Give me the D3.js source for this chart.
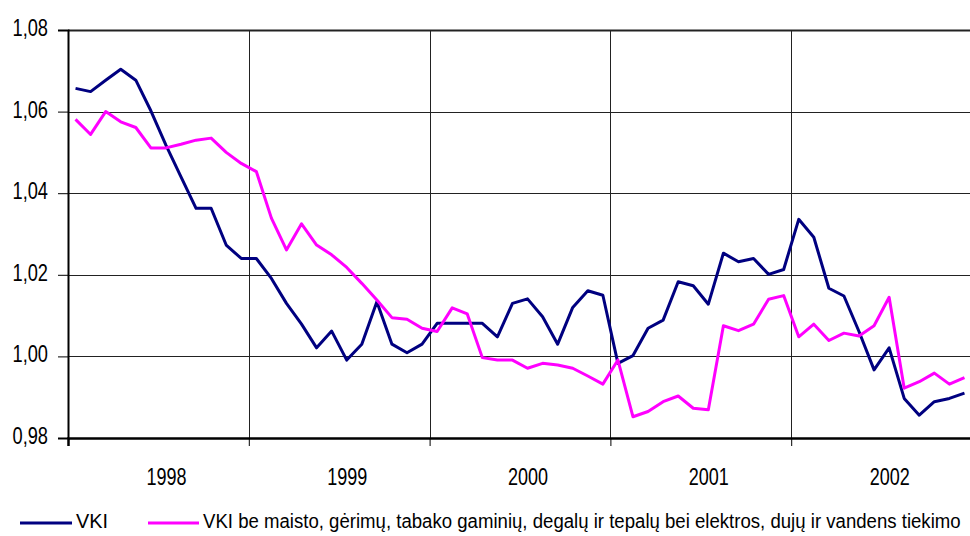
<!DOCTYPE html>
<html><head><meta charset="utf-8">
<script src="https://cdn.jsdelivr.net/npm/d3@7"></script>
<style>
html,body{margin:0;padding:0;background:#fff;}
svg{display:block;font-family:"Liberation Sans",Arial,sans-serif;}
</style></head>
<body>
<svg id="c" width="970" height="536"></svg>
<script>
const years = ["1998","1999","2000","2001","2002"];
const yTicks = [0.98,1.00,1.02,1.04,1.06,1.08];
const vki = [1.0657,1.0649,1.0677,1.0704,1.0677,1.0602,1.0518,1.0440,1.0363,1.0363,1.0273,1.0240,
  1.0240,1.0191,1.0130,1.0079,1.0021,1.0062,0.9991,1.0030,1.0134,1.0030,1.0009,1.0030,
  1.0081,1.0081,1.0081,1.0081,1.0048,1.0130,1.0141,1.0097,1.0030,1.0120,1.0161,1.0150,
  0.9983,1.0002,1.0069,1.0089,1.0183,1.0173,1.0128,1.0253,1.0232,1.0240,1.0201,1.0213,
  1.0336,1.0292,1.0167,1.0148,1.0061,0.9967,1.0021,0.9897,0.9856,0.9889,0.9897,0.9910];
const vkiBe = [1.0581,1.0544,1.0600,1.0575,1.0561,1.0511,1.0511,1.0520,1.0530,1.0535,1.0500,1.0473,
  1.0453,1.0339,1.0261,1.0325,1.0273,1.0249,1.0218,1.0179,1.0138,1.0095,1.0091,1.0069,
  1.0061,1.0119,1.0104,0.9997,0.9991,0.9991,0.9971,0.9983,0.9979,0.9971,0.9952,0.9932,
  0.9991,0.9852,0.9865,0.9889,0.9903,0.9873,0.9869,1.0075,1.0063,1.0079,1.0140,1.0149,
  1.0048,1.0079,1.0039,1.0057,1.0050,1.0075,1.0145,0.9922,0.9938,0.9959,0.9932,0.9948];
const seriesNames = ["VKI","VKI be maisto, gėrimų, tabako gaminių, degalų ir tepalų bei elektros, dujų ir vandens tiekimo"];
const colors = ["#000080","#ff00ff"];

const svg = d3.select("#c");
const L = 68, R = 972, T = 30, B = 438;
const x = d3.scaleLinear().domain([0,60]).range([L,R]);
const y = d3.scaleLinear().domain([0.98,1.08]).range([B,T]);
const fmt = d => d.toFixed(2).replace(".",",");

// gridlines
svg.append("g").selectAll("line.h").data(yTicks.slice(1)).join("line")
  .attr("x1",L).attr("x2",R).attr("y1",d=>Math.round(y(d))+0.5).attr("y2",d=>Math.round(y(d))+0.5)
  .attr("stroke","#222").attr("stroke-width",d=>d===1.08?2:1);
svg.append("g").selectAll("line.v").data([12,24,36,48]).join("line")
  .attr("x1",d=>Math.round(x(d))+0.5).attr("x2",d=>Math.round(x(d))+0.5).attr("y1",T).attr("y2",B)
  .attr("stroke","#222").attr("stroke-width",1);

// left axis
const ga = svg.append("g").attr("transform",`translate(${L},0)`)
  .call(d3.axisLeft(y).tickValues(yTicks).tickSize(10).tickFormat(fmt));
ga.select(".domain").attr("stroke","#000").attr("stroke-width",2);
ga.selectAll(".tick line").attr("stroke","#000");
ga.selectAll(".tick text").attr("x",null).attr("dy",null)
  .attr("transform","translate(-20,5.5) scale(0.76,1)")
  .attr("text-anchor","end").attr("font-size",24).attr("fill","#000")
  .attr("font-family","'Liberation Sans',Arial,sans-serif");

// bottom axis ticks
const gb = svg.append("g").attr("transform",`translate(0,${B})`)
  .call(d3.axisBottom(x).tickValues([0,12,24,36,48,60]).tickSize(8).tickFormat(""));
gb.select(".domain").attr("stroke","#000").attr("stroke-width",2.5);
gb.selectAll(".tick line").attr("stroke","#000");

// year labels
const gy = svg.append("g").attr("transform",`translate(0,${B})`)
  .call(d3.axisBottom(x).tickValues(years.map((_,i)=>i*12+6.5)).tickSize(0).tickFormat((d,i)=>years[i]));
gy.select(".domain").remove();
gy.selectAll(".tick text").attr("y",null).attr("dy",null)
  .attr("transform","translate(0,47) scale(0.75,1)")
  .attr("text-anchor","middle").attr("font-size",24).attr("fill","#000")
  .attr("font-family","'Liberation Sans',Arial,sans-serif");

// lines
const line = d3.line().x((d,i)=>x(i+0.5)).y(d=>y(d));
[vki,vkiBe].forEach((s,k)=>{
  svg.append("path").datum(s).attr("d",line).attr("fill","none")
    .attr("stroke",colors[k]).attr("stroke-width",3).attr("stroke-linejoin","round");
});
// legend
const leg = [{x1:20,x2:72,tx:76,tw:32},{x1:148,x2:199,tx:203,tw:758}];
leg.forEach((l,k)=>{
  svg.append("line").attr("x1",l.x1).attr("x2",l.x2).attr("y1",523).attr("y2",523)
    .attr("stroke",colors[k]).attr("stroke-width",3);
  const t = svg.append("text").attr("x",0).attr("y",0).attr("font-size",21)
    .attr("fill","#000").text(seriesNames[k]);
  const w = t.node().getComputedTextLength();
  t.attr("transform",`translate(${l.tx},528) scale(${l.tw/w},1)`);
});
</script>
</body></html>
